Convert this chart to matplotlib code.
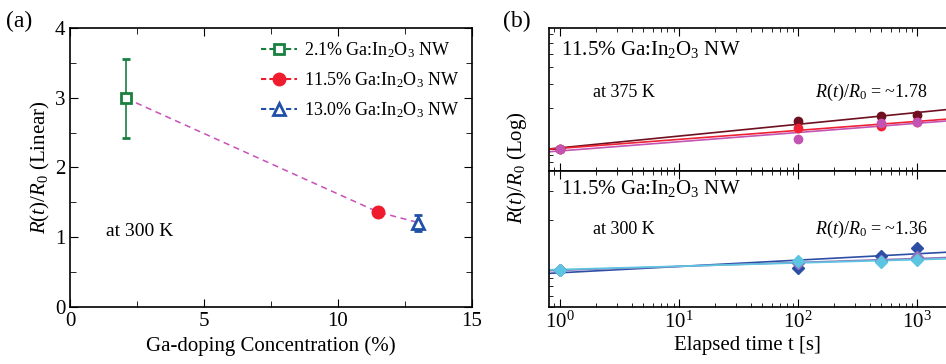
import numpy as np
import matplotlib.pyplot as plt
from matplotlib.lines import Line2D
from matplotlib.ticker import LogLocator, NullFormatter, MultipleLocator

plt.rcParams['font.family'] = ['Liberation Serif', 'DejaVu Serif']
plt.rcParams['mathtext.fontset'] = 'custom'
plt.rcParams['mathtext.rm'] = 'Liberation Serif'
plt.rcParams['mathtext.it'] = 'Liberation Serif:italic'
plt.rcParams['axes.linewidth'] = 1.2

# (a) R(t)/R0 at 300 K vs Ga doping
conc = [2.1, 11.5, 13.0]
ratio = [2.99, 1.36, 1.21]
err_lo = [0.56, 0.07, 0.12]
err_hi = [0.57, 0.07, 0.11]
labels_a = ['2.1% Ga:In$_2$O$_3$ NW', '11.5% Ga:In$_2$O$_3$ NW', '13.0% Ga:In$_2$O$_3$ NW']

# (b) time dependence, 11.5% NW
t = [1, 100, 500, 1000]
hot = {  # 375 K
    '#6e1020': [1.0, 1.615, 1.757, 1.778],
    '#ee2233': [1.0, 1.434, 1.483, 1.593],
    '#c454b4': [1.0, 1.184, 1.561, 1.587],
}
room = {  # 300 K
    '#2c4ea6': [1.0, 1.024, 1.216, 1.359],
    '#9078bc': [1.0, 1.10, 1.138, 1.199],
    '#5cc6e2': [1.0, 1.134, 1.123, 1.150],
}

ylab = r'$R(t)/R_{\mathit{0}}$'

fig = plt.figure(figsize=(9.46, 3.64), dpi=100)

# ---- panel (a)
ax = fig.add_axes([0.074, 0.1566, 0.425, 0.7665])
ax.plot(conc, ratio, '--', color='#c850b8', lw=1.1, dashes=(4, 3), zorder=1)
ax.errorbar(conc[0], ratio[0], yerr=[[err_lo[0]], [err_hi[0]]], fmt='s', ms=7.5,
            mfc='white', mec='#1a8040', mew=2, ecolor='#1a8040', capsize=3, elinewidth=1.2, zorder=3)
ax.errorbar(conc[1], ratio[1], yerr=[[err_lo[1]], [err_hi[1]]], fmt='o', ms=9,
            color='#ee1c2e', ecolor='#d070a0', capsize=3, elinewidth=1.2, zorder=3)
ax.errorbar(conc[2], ratio[2], yerr=[[err_lo[2]], [err_hi[2]]], fmt='^', ms=8.5,
            mfc='white', mec='#2050a8', mew=2, ecolor='#2050a8', capsize=3, elinewidth=1.2, zorder=3)
handles = [
    Line2D([], [], color='#1a8040', ls='--', dashes=(2.5, 1.5), marker='s', ms=7, mfc='white', mew=2),
    Line2D([], [], color='#ee1c2e', ls='--', dashes=(2.5, 1.5), marker='o', ms=9),
    Line2D([], [], color='#2050a8', ls='--', dashes=(2.5, 1.5), marker='^', ms=8, mfc='white', mew=2),
]
ax.legend(handles, labels_a, loc='upper right', frameon=False, fontsize=13,
          handlelength=2.0, handletextpad=0.4, labelspacing=0.55, borderaxespad=0.3,
          bbox_to_anchor=(1.0, 1.0))
ax.set_xlim(0, 15)
ax.set_ylim(0, 4)
ax.xaxis.set_major_locator(MultipleLocator(5))
ax.xaxis.set_minor_locator(MultipleLocator(2.5))
ax.yaxis.set_major_locator(MultipleLocator(1))
ax.yaxis.set_minor_locator(MultipleLocator(0.5))
ax.tick_params(which='both', direction='in', top=True, right=True, labelsize=15)
ax.tick_params(which='major', length=6)
ax.tick_params(which='minor', length=4)
ax.set_xlabel('Ga-doping Concentration (%)', fontsize=15, labelpad=4)
ax.set_ylabel(ylab + ' (Linear)', fontsize=15, labelpad=2)
ax.text(0.09, 0.255, 'at 300 K', transform=ax.transAxes, fontsize=14)
fig.text(0.006, 0.925, '(a)', fontsize=17)

# ---- panel (b)
axt = fig.add_axes([0.5803, 0.530, 0.4197, 0.393])
axb = fig.add_axes([0.5803, 0.1566, 0.4197, 0.3736], sharex=axt)

def draw(a, data, marker, ms):
    lt = np.log10(t)
    for c, v in data.items():
        k, b = np.polyfit(lt, np.log10(v), 1)
        xx = np.logspace(-0.2, 3.4, 50)
        a.plot(xx, 10 ** (b + k * np.log10(xx)), color=c, lw=1.2, zorder=2)
        a.plot(t, v, marker, color=c, ms=ms, ls='none', zorder=3)

draw(axt, hot, 'o', 6)
draw(axb, room, 'D', 6)

axt.set_ylim(0.689, 7.76)
axb.set_ylim(0.597, 3.98)
for a in (axt, axb):
    a.set_xscale('log')
    a.set_yscale('log')
    a.set_xlim(0.81, 1740)
    a.spines['right'].set_visible(False)
    a.xaxis.set_major_locator(LogLocator(base=10, numticks=10))
    a.xaxis.set_minor_locator(LogLocator(base=10, subs=np.arange(2, 10), numticks=10))
    a.yaxis.set_major_formatter(NullFormatter())
    a.yaxis.set_minor_formatter(NullFormatter())
    a.tick_params(which='both', direction='in', top=True, right=False, labelsize=15)
    a.tick_params(which='major', length=6)
    a.tick_params(which='minor', length=3)
axt.tick_params(labelbottom=False)
axt.xaxis.set_minor_formatter(NullFormatter())
axb.xaxis.set_minor_formatter(NullFormatter())
axb.set_xlabel('Elapsed time t [s]', fontsize=15, labelpad=2)
fig.text(0.547, 0.54, ylab + ' (Log)', fontsize=15, rotation=90, ha='center', va='center')

axt.text(0.03, 0.81, '11.5% Ga:In$_2$O$_3$ NW', transform=axt.transAxes, fontsize=15)
axt.text(0.11, 0.52, 'at 375 K', transform=axt.transAxes, fontsize=13)
axt.text(0.67, 0.52, ylab + ' = ~1.78', transform=axt.transAxes, fontsize=13)
axb.text(0.03, 0.83, '11.5% Ga:In$_2$O$_3$ NW', transform=axb.transAxes, fontsize=15)
axb.text(0.11, 0.54, 'at 300 K', transform=axb.transAxes, fontsize=13)
axb.text(0.67, 0.54, ylab + ' = ~1.36', transform=axb.transAxes, fontsize=13)
fig.text(0.532, 0.925, '(b)', fontsize=17)

fig.savefig('out.png', dpi=100)
